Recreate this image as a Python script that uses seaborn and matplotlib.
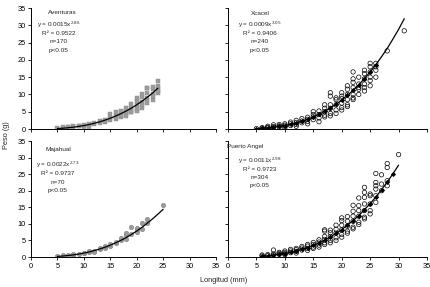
import numpy as np
import pandas as pd
import seaborn as sns
import matplotlib
matplotlib.use("Agg")
import matplotlib.pyplot as plt

# ---- Aventuras (grey squares) ----
av_x = [5, 6, 6, 7, 7, 8, 8, 9, 9, 10, 10, 10, 11, 11, 11, 12, 12, 13, 13,
        14, 14, 14, 15, 15, 15, 16, 16, 16, 16, 17, 17, 17, 17,
        18, 18, 18, 18, 18, 19, 19, 19, 19, 19, 20, 20, 20, 20, 20, 20,
        21, 21, 21, 21, 21, 22, 22, 22, 22, 22, 22, 23, 23, 23, 23, 23,
        24, 24, 24, 24, 24]
av_y = [0.4, 0.3, 0.5, 0.5, 0.6, 0.6, 0.8, 0.8, 1.0, 0.9, 1.2, 0.3, 1.1, 1.5, 0.4, 1.4, 1.8, 1.8, 2.3,
        2.1, 2.7, 2.4, 2.6, 3.3, 4.2, 3.0, 3.8, 4.9, 3.4, 3.5, 4.6, 5.3, 4.0,
        4.2, 5.2, 6.0, 4.8, 3.8, 4.8, 6.0, 7.2, 5.5, 5.0, 5.5, 7.0, 8.2, 9.0, 6.2, 5.2,
        6.2, 7.8, 9.2, 10.0, 7.0, 7.5, 9.0, 10.5, 11.8, 12.0, 8.5, 8.5, 10.0, 11.5, 12.2, 9.5,
        10.5, 11.5, 12.5, 14.0, 11.0]
av_cx = list(range(5, 25))
av_cy = [0.14, 0.23, 0.36, 0.53, 0.74, 0.99, 1.30, 1.66, 2.08, 2.56, 3.11, 3.73,
         4.43, 5.20, 6.05, 7.00, 8.05, 9.17, 10.4, 11.8]

# ---- Xcacel (open circles + fitted points) ----
xc_x = [5, 6, 6, 7, 7, 7, 8, 8, 8, 9, 9, 9, 10, 10, 10, 10, 11, 11, 11,
        12, 12, 12, 12, 13, 13, 13, 14, 14, 14, 14, 15, 15, 15, 15, 16, 16, 16, 16,
        17, 17, 17, 17, 17, 18, 18, 18, 18, 18, 18, 19, 19, 19, 19, 19,
        20, 20, 20, 20, 20, 20, 21, 21, 21, 21, 21, 21, 22, 22, 22, 22, 22, 22, 22,
        23, 23, 23, 23, 23, 24, 24, 24, 24, 24, 24, 25, 25, 25, 25, 25, 25,
        26, 26, 26, 26, 28, 31]
xc_y = [0.1, 0.2, 0.4, 0.3, 0.5, 0.8, 0.4, 0.7, 1.2, 0.6, 0.9, 1.3, 0.8, 1.1, 1.5, 0.4, 1.0, 1.5, 2.0,
        1.3, 1.9, 2.5, 0.8, 1.8, 2.3, 3.0, 2.2, 2.8, 3.4, 1.5, 2.7, 3.5, 4.2, 5.0, 3.2, 4.2, 5.2, 2.1,
        4.0, 5.0, 6.0, 7.0, 3.5, 4.5, 6.0, 7.0, 9.5, 10.5, 3.8, 5.5, 7.0, 8.5, 4.5, 9.0,
        6.2, 7.5, 8.8, 9.5, 5.5, 10.5, 7.0, 8.5, 10.0, 11.5, 12.5, 6.5, 8.5, 10.0, 12.0, 13.5, 14.5, 9.0, 16.5,
        10.0, 11.5, 13.0, 15.0, 12.0, 11.0, 13.0, 14.5, 16.0, 17.0, 12.0, 12.5, 14.0, 16.5, 18.0, 19.0, 15.0,
        15.0, 17.0, 19.0, 18.0, 22.6, 28.4]
xc_cx = list(range(5, 32))
xc_cy = [0.12, 0.21, 0.34, 0.51, 0.73, 1.01, 1.35, 1.76, 2.25, 2.82, 3.48, 4.24, 5.09,
         6.06, 7.15, 8.36, 9.71, 11.2, 12.8, 14.6, 16.5, 18.6, 20.9, 23.3, 26.0, 28.8, 31.9]
xc_nfit = 22  # fitted points drawn up to 26 mm

# ---- Majahual (grey circles) ----
mj_x = [5, 6, 7, 8, 8, 9, 10, 10, 11, 11, 12, 12, 13, 13, 14, 14, 15, 15, 16, 16,
        17, 17, 18, 18, 18, 19, 19, 20, 20, 20, 21, 21, 22, 22, 25]
mj_y = [0.4, 0.5, 0.6, 0.7, 0.9, 0.9, 1.1, 1.3, 1.5, 1.8, 1.9, 1.6, 2.3, 2.6, 2.8, 3.2, 3.4, 3.9, 4.2, 4.6,
        5.0, 5.8, 5.5, 6.5, 7.1, 7.0, 9.1, 7.6, 8.3, 8.6, 8.5, 10.2, 10.4, 11.6, 15.8]
mj_cx = list(range(5, 26))
mj_cy = [0.18, 0.29, 0.45, 0.64, 0.89, 1.18, 1.53, 1.95, 2.42, 2.96, 3.58, 4.27,
         5.03, 5.87, 6.80, 7.84, 8.96, 10.2, 11.5, 12.9, 14.4]

# ---- Puerto Angel (open circles + fitted points) ----
pa_x = [6, 6, 7, 7, 8, 8, 8, 9, 9, 9, 10, 10, 10, 10, 11, 11, 11, 12, 12, 12, 12,
        13, 13, 13, 14, 14, 14, 14, 15, 15, 15, 15, 16, 16, 16, 16,
        17, 17, 17, 17, 17, 17, 18, 18, 18, 18, 18, 19, 19, 19, 19, 19,
        20, 20, 20, 20, 20, 20, 21, 21, 21, 21, 21, 22, 22, 22, 22, 22, 22,
        23, 23, 23, 23, 23, 23, 24, 24, 24, 24, 24, 24, 24, 25, 25, 25, 25, 25,
        26, 26, 26, 26, 26, 26, 27, 27, 27, 28, 28, 28, 28, 30]
pa_y = [0.3, 0.6, 0.4, 0.7, 0.6, 0.9, 2.1, 0.8, 1.1, 1.4, 1.0, 1.4, 1.8, 0.7, 1.3, 1.8, 2.3, 1.7, 2.2, 2.6, 1.2,
        2.1, 2.7, 3.2, 2.6, 3.3, 3.8, 2.0, 3.0, 3.8, 4.4, 2.6, 3.6, 4.5, 5.2, 3.0,
        4.3, 5.3, 6.2, 7.8, 8.2, 3.8, 5.0, 6.2, 7.3, 8.1, 4.3, 5.8, 7.2, 8.4, 9.6, 5.0,
        6.8, 8.2, 9.6, 11.0, 11.8, 6.0, 7.8, 9.3, 10.8, 12.2, 7.2, 9.0, 10.8, 12.3, 13.8, 15.6, 8.5,
        10.5, 12.3, 14.0, 15.5, 17.8, 9.8, 12.0, 14.0, 16.0, 18.0, 19.5, 21.0, 11.5, 14.0, 16.0, 18.5, 13.0, 19.0,
        16.5, 18.5, 20.5, 22.5, 21.5, 25.2, 20.0, 22.0, 24.8, 21.5, 23.0, 27.0, 28.2, 30.9]
pa_cx = list(range(6, 31))
pa_cy = [0.23, 0.36, 0.54, 0.77, 1.05, 1.40, 1.81, 2.30, 2.86, 3.52, 4.27, 5.10, 6.05,
         7.1, 8.29, 9.6, 11.0, 12.5, 14.3, 16.1, 18.1, 20.3, 22.6, 25.1, 27.7]
pa_nfit = 24

labels = [
    ("Aventuras", "y = 0.0015x$^{2.86}$", "R² = 0.9522", "n=170", "p<0.05"),
    ("Xcacel", "y = 0.0009x$^{3.05}$", "R² = 0.9406", "n=240", "p<0.05"),
    ("Majahual", "y = 0.0022x$^{2.73}$", "R² = 0.9737", "n=70", "p<0.05"),
    ("Puerto Angel", "y = 0.0011x$^{2.98}$", "R² = 0.9723", "n=304", "p<0.05"),
]

sns.set_style("ticks")
plt.rcParams['font.family'] = ['Liberation Sans', 'DejaVu Sans']
plt.rcParams['mathtext.fontset'] = 'custom'
plt.rcParams['mathtext.rm'] = 'Liberation Sans'
plt.rcParams['mathtext.it'] = 'Liberation Sans'

W, H = 431, 287
fig = plt.figure(figsize=(W / 100, H / 100), dpi=100)

def box(x0, x1, y0, y1):
    return [x0 / W, 1 - y1 / H, (x1 - x0) / W, (y1 - y0) / H]

ax1 = fig.add_axes(box(31, 216, 8, 129))
ax2 = fig.add_axes(box(228, 427, 8, 129))
ax3 = fig.add_axes(box(31, 216, 141, 257))
ax4 = fig.add_axes(box(228, 427, 141, 257))

grey = "#9c9c9c"
sns.scatterplot(x=av_x, y=av_y, ax=ax1, marker="s", s=9, color=grey,
                edgecolor="#8a8a8a", linewidth=0.3, zorder=2)
sns.lineplot(x=av_cx, y=av_cy, ax=ax1, color="black", lw=0.9, zorder=3)

sns.scatterplot(x=xc_x, y=xc_y, ax=ax2, marker="o", s=10, facecolor="none",
                edgecolor="black", linewidth=0.5, zorder=2)
sns.lineplot(x=xc_cx, y=xc_cy, ax=ax2, color="black", lw=0.9, zorder=3)
sns.scatterplot(x=xc_cx[:xc_nfit], y=xc_cy[:xc_nfit], ax=ax2, marker="D", s=7,
                color="black", linewidth=0, zorder=4)

sns.scatterplot(x=mj_x, y=mj_y, ax=ax3, marker="o", s=10, color=grey,
                edgecolor="#808080", linewidth=0.4, zorder=2)
sns.lineplot(x=mj_cx, y=mj_cy, ax=ax3, color="black", lw=0.9, zorder=3)

sns.scatterplot(x=pa_x, y=pa_y, ax=ax4, marker="o", s=10, facecolor="none",
                edgecolor="black", linewidth=0.5, zorder=2)
sns.lineplot(x=pa_cx, y=pa_cy, ax=ax4, color="black", lw=0.9, zorder=3)
sns.scatterplot(x=pa_cx[:pa_nfit], y=pa_cy[:pa_nfit], ax=ax4, marker="D", s=7,
                color="black", linewidth=0, zorder=4)

ticks = [0, 5, 10, 15, 20, 25, 30, 35]
for ax in (ax1, ax2, ax3, ax4):
    ax.set_xlim(0, 35)
    ax.set_ylim(0, 35)
    ax.set_xticks(ticks)
    ax.set_yticks(ticks)
    ax.tick_params(direction="out", length=2.5, width=0.6, labelsize=5.3,
                   pad=1.5, colors="black")
    for side in ("left", "bottom"):
        ax.spines[side].set_linewidth(0.7)
        ax.spines[side].set_color("black")
    sns.despine(ax=ax)
    ax.set_xlabel("")
    ax.set_ylabel("")
for ax in (ax1, ax2):
    ax.tick_params(labelbottom=False)
for ax in (ax2, ax4):
    ax.tick_params(labelleft=False)

# text blocks: (title x, title y, block x, eq y, r2 y, n y, p y) in axes fraction
pos = [
    (0.17, 0.965, 0.15, 0.86, 0.793, 0.72, 0.645),
    (0.16, 0.958, 0.16, 0.86, 0.793, 0.72, 0.645),
    (0.15, 0.925, 0.145, 0.795, 0.718, 0.641, 0.573),
    (0.085, 0.95, 0.16, 0.83, 0.752, 0.684, 0.615),
]
for ax, lab, p in zip((ax1, ax2, ax3, ax4), labels, pos):
    ax.text(p[0], p[1], lab[0], transform=ax.transAxes, ha="center", va="center", fontsize=4.6)
    for txt, yy in zip(lab[1:], p[3:]):
        ax.text(p[2], yy, txt, transform=ax.transAxes, ha="center", va="center", fontsize=4.6)

fig.text(0.014, 0.53, "Peso (g)", rotation=90, ha="center", va="center", fontsize=5.3)
fig.text(224 / W, 1 - 281 / H, "Longitud (mm)", ha="center", va="center", fontsize=5.3)

fig.savefig("out.png", dpi=100)
